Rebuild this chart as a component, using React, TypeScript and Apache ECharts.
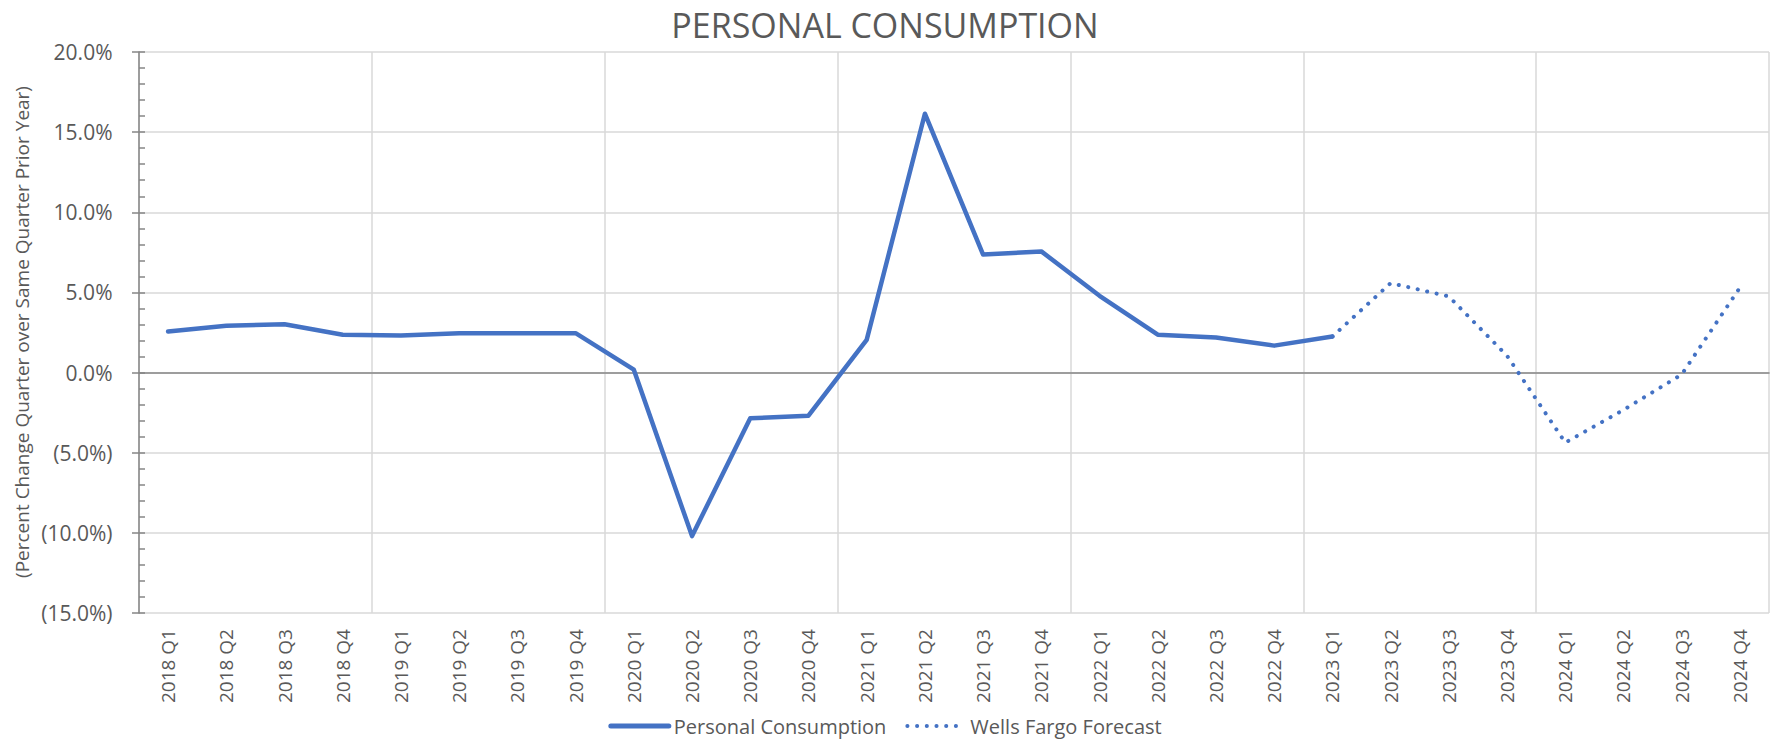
import React, { useEffect, useRef } from "react";
import * as echarts from "echarts";

// Quarter labels on the category axis
const quarters: string[] = [
  "2018 Q1", "2018 Q2", "2018 Q3", "2018 Q4",
  "2019 Q1", "2019 Q2", "2019 Q3", "2019 Q4",
  "2020 Q1", "2020 Q2", "2020 Q3", "2020 Q4",
  "2021 Q1", "2021 Q2", "2021 Q3", "2021 Q4",
  "2022 Q1", "2022 Q2", "2022 Q3", "2022 Q4",
  "2023 Q1", "2023 Q2", "2023 Q3", "2023 Q4",
  "2024 Q1", "2024 Q2", "2024 Q3", "2024 Q4",
];

// Actual year-over-year change in personal consumption (%), through 2023 Q1
const actual: (number | null)[] = [
  2.56, 2.92, 3.02, 2.36,
  2.31, 2.46, 2.46, 2.46,
  0.18, -10.2, -2.85, -2.69,
  2.04, 16.15, 7.36, 7.56,
  4.79, 2.36, 2.19, 1.68,
  2.25, null, null, null,
  null, null, null, null,
];

// Forecast path, starting from the last actual quarter
const forecast: (number | null)[] = [
  null, null, null, null,
  null, null, null, null,
  null, null, null, null,
  null, null, null, null,
  null, null, null, null,
  2.25, 5.58, 4.75, 1.05,
  -4.37, -2.33, -0.12, 5.3,
];

const yTicks = { min: -15, max: 20, step: 5 };

const GREY_TEXT = "#595959";
const BLUE = "#4472C4";
const FONT = "Open Sans";
const DOTS: number[] = [0.1, 9.6];

const fmtPct = (v: number): string =>
  v < 0 ? `(${Math.abs(v).toFixed(1)}%)` : `${v.toFixed(1)}%`;

export default function App() {
  const ref = useRef<HTMLDivElement>(null);

  useEffect(() => {
    if (!ref.current) return;
    const chart = echarts.init(ref.current, undefined, { renderer: "svg" });

    const option: echarts.EChartsOption = {
      animation: false,
      backgroundColor: "#ffffff",
      textStyle: { fontFamily: FONT },
      title: {
        text: "PERSONAL CONSUMPTION",
        left: "center",
        top: 3,
        textStyle: {
          fontFamily: FONT,
          fontSize: 34,
          fontWeight: "normal",
          color: GREY_TEXT,
        },
      },
      legend: {
        top: 711,
        left: "center",
        itemWidth: 58,
        itemHeight: 14,
        itemGap: 19,
        itemStyle: { opacity: 0 },
        textStyle: { fontFamily: FONT, fontSize: 20, lineHeight: 20, color: GREY_TEXT },
        data: [
          {
            name: "Personal Consumption",
            lineStyle: { width: 5, color: BLUE, type: "solid" },
          },
          {
            name: "Wells Fargo Forecast",
            lineStyle: { width: 4, color: BLUE, type: DOTS, cap: "round" },
          },
        ],
      },
      grid: {
        left: 139,
        right: 1,
        top: 52,
        bottom: 129,
        containLabel: false,
      },
      xAxis: [
        {
          type: "category",
          data: quarters,
          boundaryGap: true,
          position: "bottom",
          axisLine: { show: false, onZero: false },
          axisTick: { show: false },
          axisLabel: {
            interval: 0,
            rotate: 90,
            margin: 16,
            fontFamily: FONT,
            fontSize: 19,
            color: GREY_TEXT,
          },
          splitLine: {
            show: true,
            interval: (idx: number) => idx % 4 === 0,
            lineStyle: { color: "#d9d9d9", width: 1.5 },
          },
        },
        {
          // zero baseline
          type: "category",
          data: quarters,
          position: "bottom",
          axisLine: {
            show: true,
            onZero: true,
            lineStyle: { color: "#868686", width: 1.5 },
          },
          axisTick: { show: false },
          axisLabel: { show: false },
          splitLine: { show: false },
        },
      ],
      yAxis: [
        {
          type: "value",
          min: yTicks.min,
          max: yTicks.max,
          interval: yTicks.step,
          position: "left",
          axisLine: { show: true, lineStyle: { color: "#868686", width: 1.5 } },
          axisTick: { show: true, length: 7, lineStyle: { color: "#868686", width: 1.5 } },
          axisLabel: {
            margin: 26.5,
            fontFamily: FONT,
            fontSize: 21,
            color: GREY_TEXT,
            formatter: (v: number) => fmtPct(v),
          },
          splitLine: { show: true, lineStyle: { color: "#d9d9d9", width: 1.5 } },
        },
        {
          // minor ticks every 1%, drawn inside the plot
          type: "value",
          min: yTicks.min,
          max: yTicks.max,
          interval: 1,
          position: "left",
          axisLine: { show: false },
          axisTick: {
            show: true,
            inside: true,
            length: 6,
            lineStyle: { color: "#868686", width: 1.5 },
          },
          axisLabel: { show: false },
          splitLine: { show: false },
        },
      ],
      graphic: [
        {
          type: "text",
          x: 22,
          y: 332,
          rotation: Math.PI / 2,
          style: {
            text: "(Percent Change Quarter over Same Quarter Prior Year)",
            fontFamily: FONT,
            fontSize: 19,
            fill: GREY_TEXT,
            align: "center",
            verticalAlign: "middle",
          },
        },
      ],
      series: [
        {
          name: "Personal Consumption",
          type: "line",
          data: actual,
          xAxisIndex: 0,
          yAxisIndex: 0,
          symbol: "none",
          connectNulls: false,
          itemStyle: { color: BLUE },
          lineStyle: { color: BLUE, width: 4.5, cap: "round", join: "round" },
          z: 3,
        },
        {
          name: "Wells Fargo Forecast",
          type: "line",
          data: forecast,
          xAxisIndex: 0,
          yAxisIndex: 0,
          symbol: "none",
          connectNulls: false,
          itemStyle: { color: BLUE },
          lineStyle: { color: BLUE, width: 4, type: DOTS, cap: "round" },
          z: 3,
        },
      ],
    };

    chart.setOption(option);
    return () => chart.dispose();
  }, []);

  return (
    <div
      ref={ref}
      style={{ position: "absolute", left: 0, top: 0, width: 1770, height: 742 }}
    />
  );
}
